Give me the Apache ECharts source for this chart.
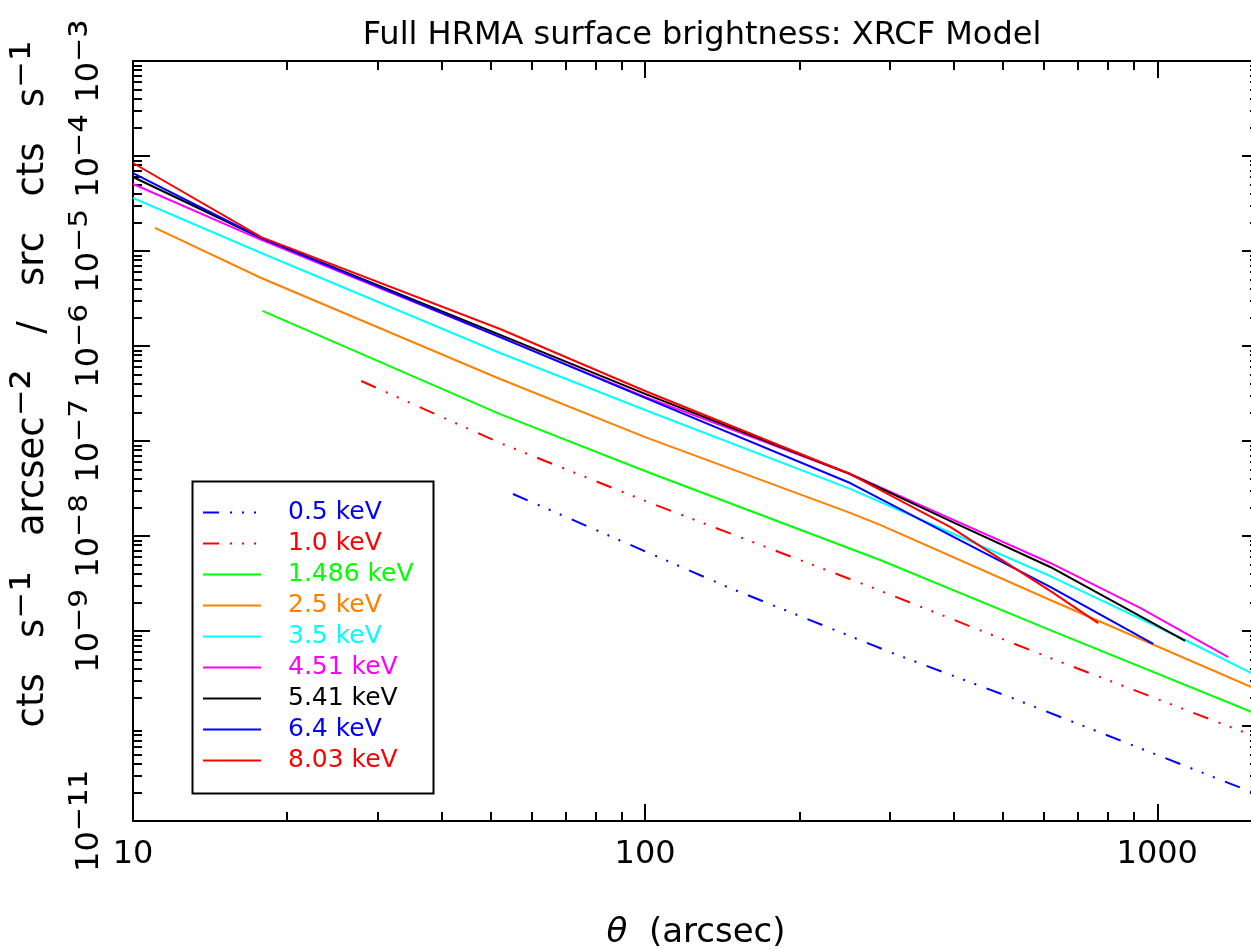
<!DOCTYPE html>
<html><head><meta charset="utf-8">
<script src="https://cdn.jsdelivr.net/npm/echarts@6/dist/echarts.min.js"></script>
<style>html,body{margin:0;padding:0;background:#fff}#c{width:1251px;height:950px}</style>
</head><body><div id="c"></div>
<script>
// ---- data ----
const energyLabels = ['0.5 keV','1.0 keV','1.486 keV','2.5 keV','3.5 keV','4.51 keV','5.41 keV','6.4 keV','8.03 keV'];

const theta_0p5  = [55.2, 144.6, 303.8, 521, 1580];
const sb_0p5     = [2.77e-8, 2.91e-9, 5.87e-10, 1.97e-10, 1.88e-11];

const theta_1p0  = [27.9, 52.1, 102.3, 278.8, 618, 1580];
const sb_1p0     = [4.28e-7, 9.53e-8, 2.23e-8, 2.84e-9, 5.2e-10, 7.48e-11];

const theta_1p486 = [17.9, 52.1, 102.3, 287.7, 618, 1580];
const sb_1p486    = [2.34e-6, 1.92e-7, 4.6e-8, 5.59e-9, 1.02e-9, 1.31e-10];

const theta_2p5  = [11.04, 17.8, 52.1, 100, 251.4, 287.7, 618, 1580];
const sb_2p5     = [1.75e-5, 5.2e-6, 4.49e-7, 1.10e-7, 1.75e-8, 1.31e-8, 2.12e-9, 2.37e-10];

const theta_3p5  = [10, 17.8, 52.1, 100, 251.4, 618, 1134, 1580];
const sb_3p5     = [3.61e-5, 9.53e-6, 8.44e-7, 2.12e-7, 3.13e-8, 3.79e-9, 8.04e-10, 3.28e-10];

const theta_4p51 = [10, 17.8, 52.1, 100, 251.4, 394, 618, 926, 1376];
const sb_4p51    = [5.07e-5, 1.31e-5, 1.24e-6, 2.91e-7, 4.49e-8, 1.53e-8, 5.2e-9, 1.75e-9, 5.32e-10];

const theta_5p41 = [10, 17.8, 52.1, 100, 251.4, 394, 618, 1134];
const sb_5p41    = [6.01e-5, 1.37e-5, 1.31e-6, 3.13e-7, 4.49e-8, 1.44e-8, 4.72e-9, 7.85e-10];

const theta_6p4  = [10, 17.8, 52.1, 100, 251.4, 394, 618, 982];
const sb_6p4     = [6.62e-5, 1.37e-5, 1.24e-6, 2.84e-7, 3.61e-8, 1.02e-8, 2.91e-9, 7.3e-10];

const theta_8p03 = [10, 17.8, 52.1, 100, 251.4, 394, 618, 767];
const sb_8p03    = [8.44e-5, 1.40e-5, 1.51e-6, 3.36e-7, 4.49e-8, 1.25e-8, 2.64e-9, 1.21e-9];

const xTickLabels = [10, 100, 1000];
const yTickLabels = [1e-11, 1e-10, 1e-9, 1e-8, 1e-7, 1e-6, 1e-5, 1e-4, 1e-3];

// ---- styles ----
const colors = ['#0000ff','#ff0000','#00ff00','#ff8000','#00ffff','#ff00ff','#000000','#0000ff','#ff0000'];
const dashDot3 = [16, 11, 2, 10, 2, 10, 2, 11];
const lineTypes = [dashDot3, dashDot3, 'solid','solid','solid','solid','solid','solid','solid'];

const thetas = [theta_0p5, theta_1p0, theta_1p486, theta_2p5, theta_3p5, theta_4p51, theta_5p41, theta_6p4, theta_8p03];
const sbs    = [sb_0p5, sb_1p0, sb_1p486, sb_2p5, sb_3p5, sb_4p51, sb_5p41, sb_6p4, sb_8p03];

const xMinor = [];
[10, 100].forEach(d => { for (let m = 2; m <= 9; m++) xMinor.push(m * d); });
const yMinor = [];
for (let k = -11; k <= -4; k++) for (let m = 2; m <= 9; m++) yMinor.push(m * Math.pow(10, k));

const FONT = 'DejaVu Sans';
const XMIN = 10, XMAX = 1580, YMIN = 1e-11, YMAX = 1e-3;
const SUP = { '-': '\u207B', '0': '\u2070', '1': '\u00B9', '2': '\u00B2', '3': '\u00B3', '4': '\u2074',
              '5': '\u2075', '6': '\u2076', '7': '\u2077', '8': '\u2078', '9': '\u2079' };
const sup = s => String(s).split('').map(c => SUP[c] || c).join('');

function xAxisDef(pos, major, withLabels) {
  const a = {
    type: 'log', logBase: 10, min: XMIN, max: XMAX, position: pos,
    splitLine: { show: false },
    axisLine: { show: major, onZero: false, lineStyle: { color: '#000', width: 2 } },
    axisTick: { show: true, inside: true, length: major ? 17 : 9,
      lineStyle: { color: '#000', width: 2 },
      customValues: major ? xTickLabels : xMinor },
    axisLabel: { show: false }
  };
  if (withLabels) {
    a.axisLabel = { show: true, customValues: xTickLabels, fontFamily: FONT, fontSize: 32,
      color: '#000', margin: 18, showMinLabel: true, showMaxLabel: true, hideOverlap: false,
      formatter: v => String(Math.round(v)) };
    a.name = '{i|θ}  (arcsec)';
    a.nameLocation = 'middle';
    a.nameGap = 95;
    a.nameTextStyle = { fontFamily: FONT, fontSize: 34, color: '#000',
      rich: { i: { fontFamily: FONT, fontSize: 34, fontStyle: 'italic', color: '#000' } } };
  }
  return a;
}
function yAxisDef(pos, major, withLabels) {
  const a = {
    type: 'log', logBase: 10, min: YMIN, max: YMAX, position: pos,
    splitLine: { show: false },
    axisLine: { show: major, onZero: false, lineStyle: { color: '#000', width: 2 } },
    axisTick: { show: true, inside: true, length: major ? 17 : 9,
      lineStyle: { color: '#000', width: 2 },
      customValues: major ? yTickLabels : yMinor },
    axisLabel: { show: false }
  };
  if (withLabels) {
    a.axisLabel = { show: true, customValues: yTickLabels, rotate: 90, margin: 20,
      showMinLabel: true, showMaxLabel: true, hideOverlap: false,
      formatter: v => '{b|10}{s|' + sup(Math.round(Math.log10(v))) + '}',
      rich: {
        b: { fontFamily: FONT, fontSize: 32, color: '#000' },
        s: { fontFamily: FONT, fontSize: 46, color: '#000' }
      } };
    a.name = '{b|cts   s}{s|' + sup(-1) + '}{b|   arcsec}{s|' + sup(-2) + '}{b|   /   src   cts   s}{s|' + sup(-1) + '}';
    a.nameLocation = 'middle';
    a.nameRotate = 90;
    a.nameGap = 68;
    a.nameTextStyle = { fontFamily: FONT, fontSize: 37, color: '#000', padding: [0, 0, 0, 114],
      rich: { b: { fontFamily: FONT, fontSize: 37, color: '#000' },
              s: { fontFamily: FONT, fontSize: 51, color: '#000' } } };
  }
  return a;
}

const series = energyLabels.map((name, i) => ({
  name, type: 'line', xAxisIndex: 0, yAxisIndex: 0,
  data: thetas[i].map((t, j) => [t, sbs[i][j]]),
  symbol: 'none', showSymbol: false, smooth: false, silent: true,
  lineStyle: { color: colors[i], width: 2, type: lineTypes[i], cap: 'butt', join: 'round' },
  itemStyle: { color: colors[i] },
  clip: true, animation: false
}));

const chart = echarts.init(document.getElementById('c'), null, { renderer: 'canvas' });
chart.setOption({
  animation: false,
  backgroundColor: '#fff',
  title: {
    text: 'Full HRMA surface brightness: XRCF Model',
    left: 697, top: 15, textAlign: 'center',
    textStyle: { fontFamily: FONT, fontSize: 32, fontWeight: 'normal', color: '#000' }
  },
  grid: { left: 133, top: 61, right: -8, bottom: 129, containLabel: false, outerBoundsMode: 'none' },
  xAxis: [ xAxisDef('bottom', true, true), xAxisDef('bottom', false, false),
           xAxisDef('top', true, false), xAxisDef('top', false, false) ],
  yAxis: [ yAxisDef('left', true, true), yAxisDef('left', false, false),
           yAxisDef('right', true, false), yAxisDef('right', false, false) ],
  legend: {
    orient: 'vertical', left: 202, top: 500, padding: 0,
    itemWidth: 58, itemHeight: 25, itemGap: 6, selectedMode: false,
    itemStyle: { opacity: 0 },
    textStyle: { fontFamily: FONT, fontSize: 25, padding: [0, 0, 0, 22] },
    data: energyLabels.map((n, i) => ({ name: n, textStyle: { color: colors[i] } }))
  },
  graphic: [{
    type: 'rect', left: 190, top: 479, silent: true, z: 0,
    shape: { width: 241, height: 312 },
    style: { fill: null, stroke: '#000', lineWidth: 2 }
  }],
  series
});
</script>
</body></html>
